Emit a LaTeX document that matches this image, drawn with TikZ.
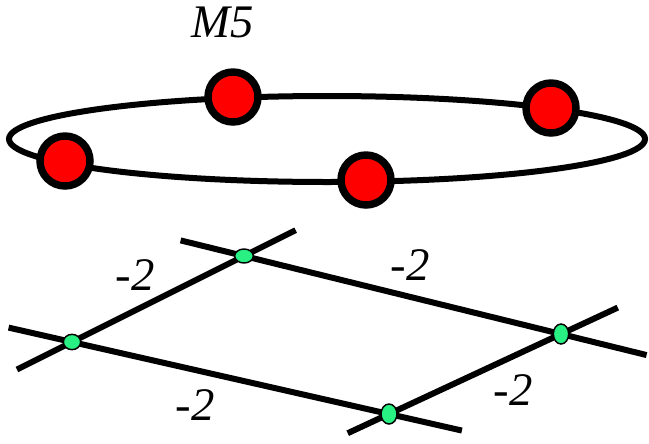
\documentclass[tikz,border=0pt]{standalone}
\usepackage{fontspec}
\newfontfamily\labelfont{Liberation Serif}
\usetikzlibrary{calc,shapes.geometric}

\definecolor{spotgreen}{RGB}{40,240,130}
\tikzset{
  bead/.style={circle, draw, fill=red, line width=5.6pt, minimum size=37.5pt, inner sep=0pt},
  spot/.style={ellipse, draw, fill=spotgreen, line width=1.1pt, inner sep=0pt},
  weight/.style={font=\labelfont\fontsize{35}{40}\selectfont\itshape, inner sep=0pt},
}

\begin{document}
\begin{tikzpicture}[x=0.75pt, y=-0.75pt, line width=4.5pt]
  \useasboundingbox (0,0) rectangle (649,443);

  % ring with the four beads
  \node[weight] (title) at (223,22) {M5};
  \draw (327,139) ellipse [x radius=318, y radius=43];
  \node[bead] (b1) at (233,97) {};
  \node[bead] (b2) at (551,108) {};
  \node[bead] (b3) at (65,161) {};
  \node[bead] (b4) at (366,180) {};

  % four lines meeting in four points
  \coordinate (L) at (72,342);
  \coordinate (T) at (244,256);
  \coordinate (R) at (561,334);
  \coordinate (B) at (389,414);

  \draw ($(L)!-0.32!(T)$) -- ($(T)!-0.30!(L)$);
  \draw ($(T)!-0.20!(R)$) -- ($(R)!-0.27!(T)$);
  \draw ($(L)!-0.20!(B)$) -- ($(B)!-0.23!(L)$);
  \draw ($(B)!-0.24!(R)$) -- ($(R)!-0.33!(B)$);

  \node[spot, minimum width=14pt, minimum height=10.5pt] (t) at (T) {};
  \node[spot, minimum width=13pt, minimum height=11.5pt] (l) at (L) {};
  \node[spot, minimum width=11.5pt, minimum height=15pt] (r) at (R) {};
  \node[spot, minimum width=12pt, minimum height=15pt] (b) at (B) {};

  \node[weight] (w1) at (135,275) {-2};
  \node[weight] (w2) at (410,265) {-2};
  \node[weight] (w3) at (195,405) {-2};
  \node[weight] (w4) at (513,390) {-2};
\end{tikzpicture}
\end{document}
